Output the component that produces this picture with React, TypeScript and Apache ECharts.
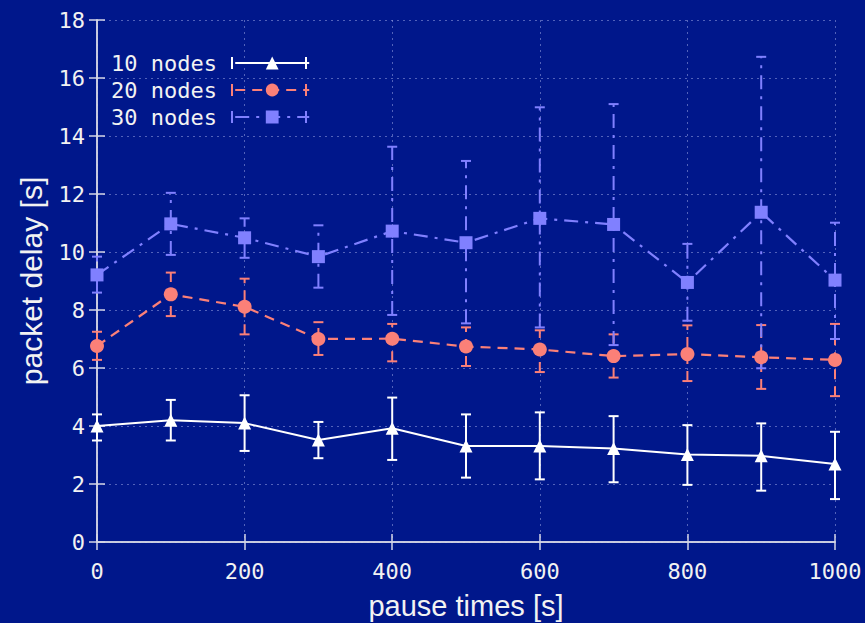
import React, { useEffect, useRef } from "react";
import * as echarts from "echarts";

const pauseTimes = [0, 100, 200, 300, 400, 500, 600, 700, 800, 900, 1000];

const nodes10 = [4.0, 4.2, 4.1, 3.52, 3.92, 3.31, 3.31, 3.22, 3.02, 2.97, 2.69];
const nodes10Low = [3.5, 3.5, 3.14, 2.89, 2.83, 2.22, 2.16, 2.06, 1.97, 1.77, 1.48];
const nodes10High = [4.4, 4.9, 5.06, 4.14, 4.98, 4.4, 4.47, 4.34, 4.03, 4.09, 3.8];

const nodes20 = [6.76, 8.54, 8.11, 7.0, 7.01, 6.74, 6.64, 6.41, 6.48, 6.37, 6.28];
const nodes20Low = [6.28, 7.79, 7.16, 6.45, 6.23, 6.07, 5.86, 5.67, 5.55, 5.28, 5.03];
const nodes20High = [7.25, 9.29, 9.08, 7.58, 7.52, 7.4, 7.3, 7.16, 7.47, 7.48, 7.52];

const nodes30 = [9.21, 10.97, 10.49, 9.84, 10.72, 10.32, 11.16, 10.95, 8.95, 11.37, 9.03];
const nodes30Low = [8.6, 9.9, 9.8, 8.77, 7.83, 7.54, 7.4, 6.79, 7.63, 5.99, 7.0];
const nodes30High = [9.84, 12.04, 11.16, 10.92, 13.63, 13.14, 14.99, 15.1, 10.28, 16.73, 11.01];

const seriesNames = ["10 nodes", "20 nodes", "30 nodes"];
const xTitle = "pause times [s]";
const yTitle = "packet delay [s]";

const BG = "#00178b";
const FRAME = "#d4d6e6";
const TEXT = "#f2f2f2";
const GRID = "rgba(150,160,225,0.55)";
const WHITE = "#ffffff";
const SALMON = "#fb8078";
const PERI = "#8080ff";

const MONO = "DejaVu Sans Mono";
const SANS = "Liberation Sans";

function errSeries(name: string, low: number[], high: number[], color: string, dash: number[] | null, width: number) {
  return {
    type: "custom",
    name,
    silent: true,
    clip: false,
    z: 2,
    data: pauseTimes.map((x, i) => [x, low[i], high[i]]),
    encode: { x: 0, y: [1, 2] },
    renderItem: (_params: any, api: any) => {
      const x = api.value(0);
      const lo = api.coord([x, api.value(1)]);
      const hi = api.coord([x, api.value(2)]);
      const w = 5;
      return {
        type: "group",
        children: [
          {
            type: "line",
            shape: { x1: lo[0], y1: lo[1], x2: hi[0], y2: hi[1] },
            style: { stroke: color, lineWidth: width, lineDash: dash || null },
          },
          {
            type: "line",
            shape: { x1: hi[0] - w, y1: hi[1], x2: hi[0] + w, y2: hi[1] },
            style: { stroke: color, lineWidth: width },
          },
          {
            type: "line",
            shape: { x1: lo[0] - w, y1: lo[1], x2: lo[0] + w, y2: lo[1] },
            style: { stroke: color, lineWidth: width },
          },
        ],
      };
    },
  };
}

function lineSeries(name: string, vals: number[], color: string, symbol: string, size: number, dash: any, width: number) {
  return {
    type: "line",
    name,
    data: pauseTimes.map((x, i) => [x, vals[i]]),
    symbol,
    symbolSize: size,
    showAllSymbol: true,
    clip: false,
    z: 3,
    itemStyle: { color, borderWidth: 0 },
    lineStyle: { color, width, type: dash },
  };
}

export default function App() {
  const ref = useRef<HTMLDivElement>(null);
  useEffect(() => {
    if (!ref.current) return;
    const chart = echarts.init(ref.current, null, { renderer: "svg" });
    const capX1 = 232;
    const capX2 = 306;
    const rowY = [63, 90, 117];
    const capColors = [WHITE, SALMON, PERI];
    const caps: any[] = [];
    rowY.forEach((y, i) => {
      [capX1, capX2].forEach((cx) => {
        caps.push({
          type: "line",
          shape: { x1: cx, y1: y - 6, x2: cx, y2: y + 6 },
          style: { stroke: capColors[i], lineWidth: 2 },
        });
      });
    });
    const axisCommon = {
      type: "value",
      axisLine: { show: true, lineStyle: { color: FRAME, width: 1.5 } },
      axisTick: { show: true, inside: true, length: 8, lineStyle: { color: FRAME, width: 1.5 } },
    };
    chart.setOption({
      animation: false,
      backgroundColor: BG,
      grid: { left: 97, right: 30, top: 20, bottom: 81, outerBoundsMode: "none", containLabel: false },
      legend: {
        data: seriesNames,
        orient: "vertical",
        left: 111,
        top: 52,
        padding: 0,
        align: "right",
        itemWidth: 74,
        itemHeight: 16,
        itemGap: 5,
        formatter: (n: string) => n + " ",
        textStyle: { color: TEXT, fontFamily: MONO, fontSize: 22, lineHeight: 22 },
      },
      graphic: caps,
      xAxis: [
        {
          ...axisCommon,
          position: "bottom",
          min: 0,
          max: 1000,
          interval: 200,
          name: xTitle,
          nameLocation: "middle",
          nameGap: 49,
          nameTextStyle: { color: TEXT, fontFamily: SANS, fontSize: 29, lineHeight: 29 },
          axisLabel: { color: TEXT, fontFamily: MONO, fontSize: 22, margin: 18, formatter: (v: number) => String(v) },
          splitLine: { show: true, lineStyle: { color: GRID, type: [2, 4], width: 1 } },
        },
        {
          ...axisCommon,
          position: "top",
          min: 0,
          max: 1000,
          interval: 200,
          axisLabel: { show: false },
          splitLine: { show: false },
        },
      ],
      yAxis: [
        {
          ...axisCommon,
          position: "left",
          min: 0,
          max: 18,
          interval: 2,
          name: yTitle,
          nameLocation: "middle",
          nameGap: 51,
          nameTextStyle: { color: TEXT, fontFamily: SANS, fontSize: 30 },
          axisLabel: { color: TEXT, fontFamily: MONO, fontSize: 22, margin: 12, formatter: (v: number) => String(v) },
          splitLine: { show: true, lineStyle: { color: GRID, type: [2, 4], width: 1 } },
        },
        {
          ...axisCommon,
          position: "right",
          min: 0,
          max: 18,
          interval: 2,
          axisLabel: { show: false },
          splitLine: { show: false },
        },
      ],
      series: [
        errSeries("err10", nodes10Low, nodes10High, WHITE, null, 2),
        lineSeries(seriesNames[0], nodes10, WHITE, "triangle", 13, "solid", 2),
        errSeries("err20", nodes20Low, nodes20High, SALMON, [10, 7], 2),
        lineSeries(seriesNames[1], nodes20, SALMON, "circle", 14, [10, 7], 2.2),
        errSeries("err30", nodes30Low, nodes30High, PERI, [14, 7, 3, 7], 2),
        lineSeries(seriesNames[2], nodes30, PERI, "rect", 13, [14, 7, 3, 7], 2.2),
      ],
    });
    return () => chart.dispose();
  }, []);
  return (
    <div
      ref={ref}
      style={{ position: "fixed", left: 0, top: 0, width: 865, height: 623, background: BG }}
    />
  );
}
